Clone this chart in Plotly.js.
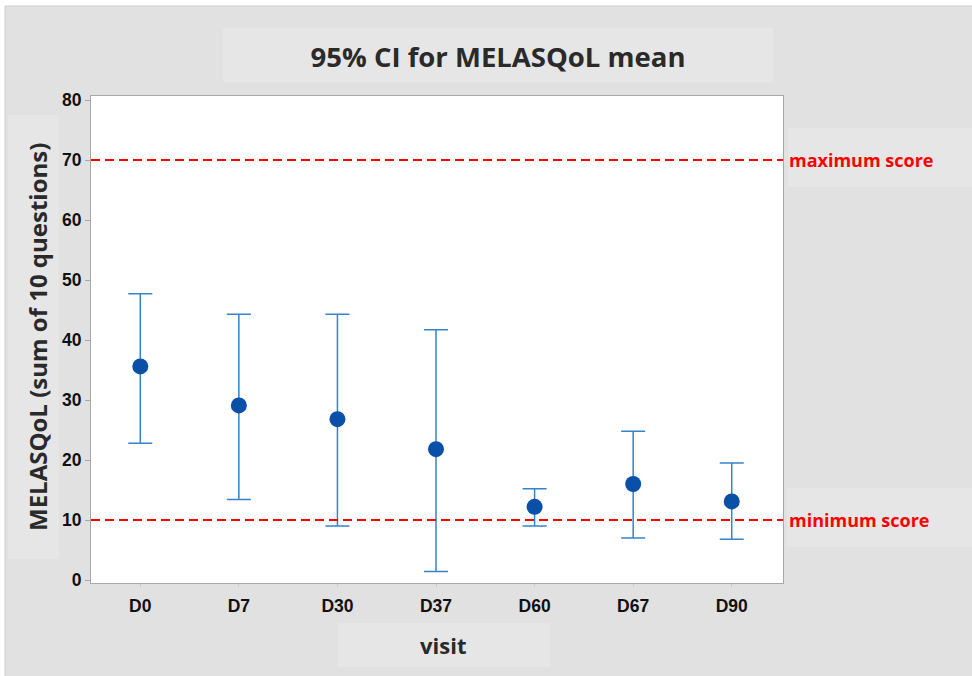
<!DOCTYPE html>
<html>
<head>
<meta charset="utf-8">
<script src="https://cdn.plot.ly/plotly-3.0.1.min.js"></script>
<style>html,body{margin:0;padding:0;background:#fff;}#chart{width:972px;height:676px;}</style>
</head>
<body>
<div id="chart"></div>
<script>
const visits = ["D0", "D7", "D30", "D37", "D60", "D67", "D90"];
const meanScore = [35.6, 29.1, 26.8, 21.8, 12.2, 16.0, 13.1];
const upperCI = [47.7, 44.3, 44.3, 41.7, 15.2, 24.8, 19.5];
const lowerCI = [22.8, 13.4, 9.0, 1.4, 9.0, 7.0, 6.8];
const yTicks = [0, 10, 20, 30, 40, 50, 60, 70, 80];
const refLines = [70, 10];
const refLabels = ["maximum score", "minimum score"];

const W = 972, H = 676;
const M = {l: 91, r: 189, t: 96, b: 93};
const PW = W - M.l - M.r, PH = H - M.t - M.b;
const px = x => (x - M.l) / PW;
const py = y => (H - M.b - y) / PH;

function box(x0, y0, x1, y1, color, line) {
  return {type: 'rect', xref: 'paper', yref: 'paper', layer: 'below',
    x0: px(x0), x1: px(x1), y0: py(y1), y1: py(y0),
    fillcolor: color, line: line || {width: 0}};
}

const shapes = [
  box(5, 6, 975, 680, '#e1e1e1', {color: '#cccccc', width: 1}),
  box(223, 28, 773, 82, '#e6e6e6'),
  box(8, 115, 59, 559, '#e6e6e6'),
  box(338, 623, 550, 667, '#e6e6e6'),
  box(788, 128, 972, 187, '#e6e6e6'),
  box(787, 488, 972, 547, '#e6e6e6'),
  box(91, 96, 783, 583, '#ffffff')
];
refLines.forEach(v => shapes.push({type: 'line', xref: 'paper', yref: 'y', x0: 0, x1: 1, y0: v, y1: v,
  line: {color: '#ff0000', width: 2, dash: '9px,5px'}}));

const annotations = refLines.map((v, i) => ({xref: 'paper', yref: 'y', x: px(787), y: v,
  xanchor: 'left', yanchor: 'middle', showarrow: false, text: refLabels[i],
  font: {family: 'Open Sans', size: 18, color: '#ff0000', weight: 'bold'}}));
annotations.push({xref: 'paper', yref: 'paper', x: px(37), y: py(337), textangle: -90,
  showarrow: false, text: 'MELASQoL (sum of 10 questions)', xanchor: 'center', yanchor: 'middle',
  font: {family: 'Open Sans', size: 24, color: '#2a2a2a', weight: 'bold'}});
annotations.push({xref: 'paper', yref: 'paper', x: px(443), y: py(645),
  showarrow: false, text: 'visit', xanchor: 'center', yanchor: 'middle',
  font: {family: 'Open Sans', size: 22, color: '#2a2a2a', weight: 'bold'}});

const trace = {
  type: 'scatter', mode: 'markers', x: visits, y: meanScore,
  marker: {color: '#0a50a8', size: 16},
  error_y: {type: 'data', symmetric: false,
    array: upperCI.map((u, i) => u - meanScore[i]),
    arrayminus: lowerCI.map((l, i) => meanScore[i] - l),
    color: '#3584cc', thickness: 1.5, width: 12},
  hoverinfo: 'none'
};

const tickFont = {family: 'Liberation Sans, Arial, sans-serif', size: 17.5, color: '#111', weight: 'bold'};

const layout = {
  width: W, height: H,
  margin: M,
  paper_bgcolor: '#ffffff', plot_bgcolor: 'rgba(0,0,0,0)',
  showlegend: false,
  title: {text: '95% CI for MELASQoL mean', x: 498 / W, xanchor: 'center', y: 1 - 57 / H, yanchor: 'middle',
    font: {family: 'Open Sans', size: 27.5, color: '#2a2a2a', weight: 'bold'}},
  xaxis: {type: 'category', range: [-0.5, 6.52], showgrid: false, zeroline: false,
    showline: true, mirror: true, linecolor: '#a8a8a8', linewidth: 1,
    ticks: 'outside', ticklen: 3, tickcolor: '#cccccc', ticklabelstandoff: 4,
    tickfont: tickFont},
  yaxis: {range: [-0.5, 80.67], tickvals: yTicks, showgrid: false, zeroline: false,
    showline: true, mirror: true, linecolor: '#a8a8a8', linewidth: 1,
    ticks: 'outside', ticklen: 5, tickcolor: '#a8a8a8',
    tickfont: tickFont},
  shapes: shapes,
  annotations: annotations
};

Plotly.newPlot('chart', [trace], layout, {displayModeBar: false, staticPlot: true});
</script>
</body>
</html>
